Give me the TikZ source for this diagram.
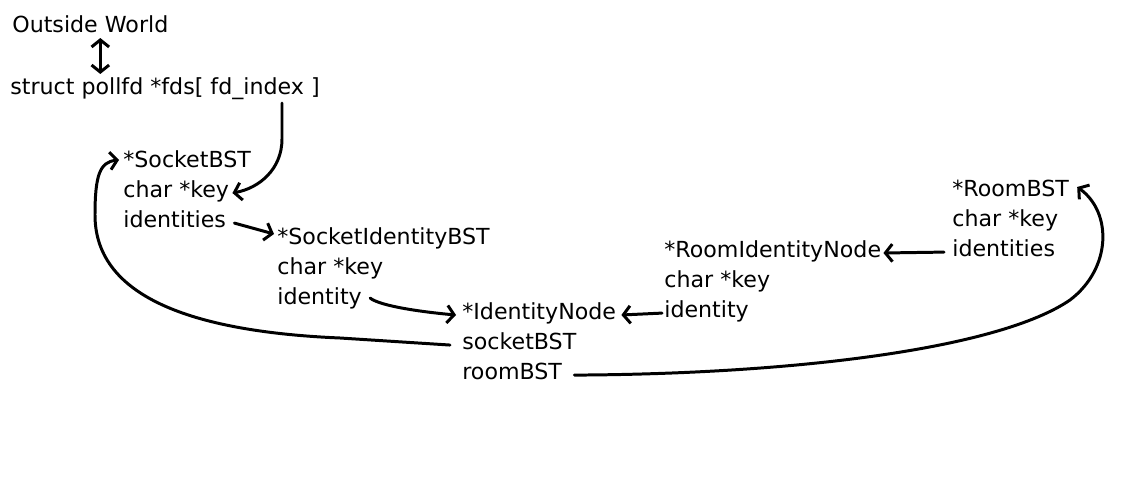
\documentclass[tikz,border=0pt]{standalone}
\usepackage{fontspec}
\setmainfont{DejaVu Sans}
\usetikzlibrary{arrows.meta, positioning, calc}

\begin{document}
\begin{tikzpicture}[
  x=0.02cm, y=0.02cm,
  ltext/.style = {inner sep=0, text height=11pt, text depth=5.7pt, anchor=west,
    font=\fontsize{12.6}{15}\selectfont},
  lnext/.style = {ltext, anchor=north west},
  fptr/.style = {-{Straight Barb[length=4pt, width=10pt]}, line width=1.7pt, line cap=round, line join=round},
  bptr/.style = {{Straight Barb[length=4pt, width=10pt]}-{Straight Barb[length=4pt, width=10pt]}, line width=1.7pt},
  ]
  \useasboundingbox (0,0) rectangle (1125,-500);
  \node[ltext] (world) at (12, -28) {Outside World};
  \node[ltext] (fds) at (10, -90) {struct pollfd *fds[ fd\_index ]};

  \node[ltext] (sbst) at (123, -163) {*SocketBST};
  \node[lnext, below = 0 of sbst.south west, anchor=north west] (sbstkey) {char *key};
  \node[lnext, below = 0 of sbstkey.south west, anchor=north west] (sbstids) {identities};

  \node[ltext] (sibst) at (277, -240) {*SocketIdentityBST};
  \node[lnext, below = 0 of sibst.south west, anchor=north west] (sibstkey) {char *key};
  \node[lnext, below = 0 of sibstkey.south west, anchor=north west] (sibstid) {identity};

  \node[ltext] (idn) at (462, -315) {*IdentityNode};
  \node[lnext, below = 0 of idn.south west, anchor=north west] (idnsock) {socketBST};
  \node[lnext, below = 0 of idnsock.south west, anchor=north west] (idnroom) {roomBST};

  \node[ltext] (ridn) at (664, -253) {*RoomIdentityNode};
  \node[lnext, below = 0 of ridn.south west, anchor=north west] (ridnkey) {char *key};
  \node[lnext, below = 0 of ridnkey.south west, anchor=north west] (ridnid) {identity};

  \node[ltext] (rbst) at (952, -192) {*RoomBST};
  \node[lnext, below = 0 of rbst.south west, anchor=north west] (rbstkey) {char *key};
  \node[lnext, below = 0 of rbstkey.south west, anchor=north west] (rbstids) {identities};

  \draw[bptr] ($(world.south)+(10,5)$) -- ($(world.south |- fds.north)+(10,1)$);
  \draw[fptr] ($(fds.south east)+(-38,2)$) -- ++(0,-36)
    .. controls +(0,-30) and ($(sbstkey.east)+(30,5)$) .. ($(sbstkey.east)+(3,0)$);
  \draw[fptr] ($(sbstids.east)+(8,0)$) -- ($(sibst.west)+(-3,6)$);
  \draw[fptr] ($(sibstid.east)+(8,2)$) .. controls +(10,-8) and ($(idn.west)+(-40,3)$) .. ($(idn.west)+(-6,0)$);
  \draw[fptr] ($(rbstids.west)+(-8,0)$) -- ($(ridn.east)+(2,0)$);
  \draw[fptr] ($(ridnid.west)+(-2,0)$) -- ($(idn.east)+(5,0)$);
  \draw[fptr] ($(idnsock.west)+(-12,0)$) -- (340,-338)
    .. controls (200,-332) and (95,-300) .. (95,-215)
    .. controls (95,-175) and (100,-162) .. ($(sbst.west)+(-4,3)$);
  \draw[fptr] ($(idnroom.east)+(12,0)$) .. controls (800,-374) and (1000,-348) .. (1070,-300)
    .. controls (1112,-268) and (1112,-212) .. ($(rbst.east)+(8,5)$);
\end{tikzpicture}
\end{document}
